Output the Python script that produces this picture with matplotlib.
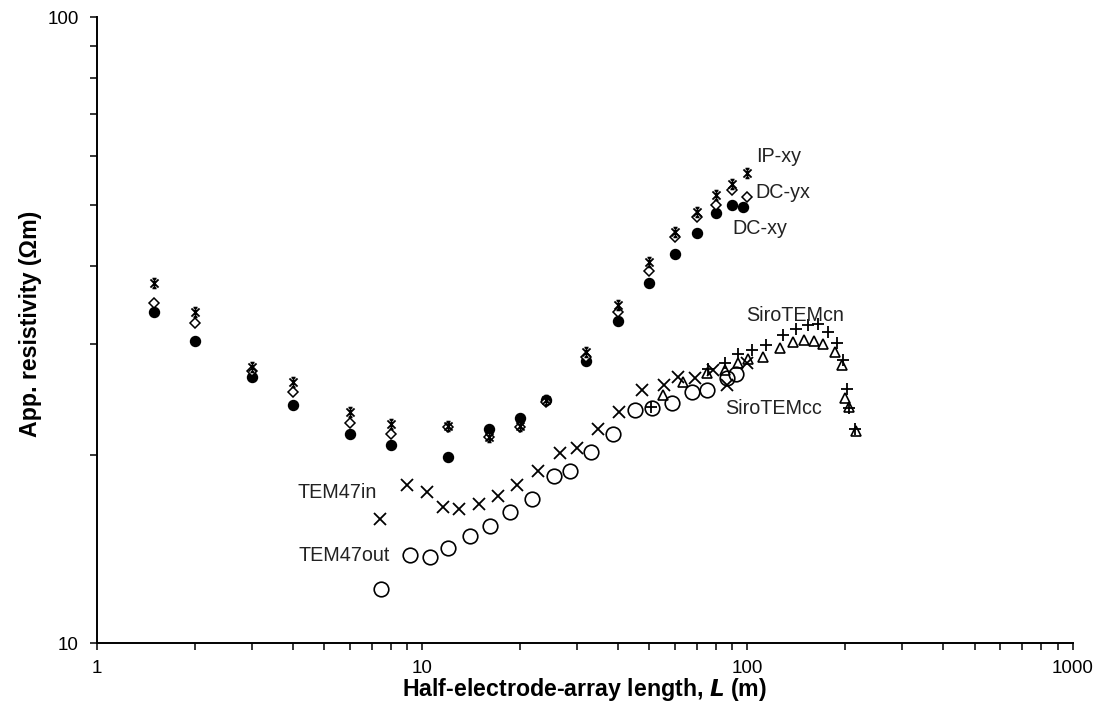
import numpy as np
import matplotlib
matplotlib.use("Agg")
import matplotlib.pyplot as plt
from matplotlib.path import Path
from matplotlib.ticker import LogLocator, FixedLocator, FixedFormatter, NullFormatter

plt.rcParams['font.family'] = ['Liberation Sans', 'DejaVu Sans']

# DC / IP soundings (half-electrode-array length L, apparent resistivity)
dc_L = [1.5, 2, 3, 4, 6, 8, 12, 16, 20, 24, 32, 40, 50, 60, 70, 80, 90]
ip_xy = [37.6, 33.8, 27.6, 26.1, 23.4, 22.4, 22.2, 21.3, 22.2, 24.4, 29.2, 34.7, 40.6, 45.4, 48.8, 52.0, 54.1]
dc_yx = [34.9, 32.4, 27.2, 25.2, 22.5, 21.6, 22.1, 21.3, 22.1, 24.3, 28.6, 33.8, 39.3, 44.5, 47.9, 50.1, 52.9]
dc_xy = [33.8, 30.4, 26.6, 24.0, 21.6, 20.7, 19.8, 22.0, 22.9, 24.4, 28.2, 32.7, 37.6, 41.8, 45.2, 48.6, 50.1]
# last points of each DC/IP curve sit at slightly different L
ip_xy_end_L, ip_xy_end = 100, 56.3
dc_yx_end_L, dc_yx_end = 100, 51.6
dc_xy_end_L, dc_xy_end = 96.7, 49.7

# TEM47 in-loop and out-of-loop
tem_in_L = [7.40, 8.96, 10.32, 11.56, 12.95, 14.92, 17.07, 19.53, 22.65, 26.48,
            29.88, 34.64, 40.21, 47.32, 55.28, 61.07, 68.87, 78.23, 86.36, 99.5]
tem_in = [15.8, 17.9, 17.4, 16.5, 16.4, 16.7, 17.2, 17.9, 18.8, 20.1,
          20.5, 22.0, 23.4, 25.4, 25.8, 26.6, 26.5, 27.3, 25.8, 28.0]
tem_out_L = [7.45, 9.15, 10.54, 11.98, 14.00, 16.13, 18.58, 21.73, 25.38, 28.41,
             32.96, 38.52, 45.02, 50.76, 58.53, 67.42, 74.97, 86.36, 92.05]
tem_out = [12.2, 13.8, 13.7, 14.2, 14.8, 15.4, 16.2, 17.0, 18.5, 18.8,
           20.2, 21.6, 23.6, 23.7, 24.2, 25.2, 25.4, 26.5, 26.9]

# SiroTEM central and coincident loop
siro_cn_L = [50.7, 75.5, 85.2, 93.3, 103.1, 113.8, 128.3, 140.8, 153.2, 164.5,
             176.6, 188.2, 196.4, 202.1, 204.9, 213.8]
siro_cn = [23.8, 27.4, 28.0, 28.9, 29.4, 29.9, 31.0, 31.7, 32.2, 32.3,
           31.4, 30.2, 28.3, 25.5, 23.7, 22.0]
siro_cc_L = [54.9, 63.3, 75.0, 85.2, 93.3, 100.2, 111.4, 125.7, 137.8, 148.9,
             159.8, 170.5, 185.6, 195.0, 199.3, 204.9, 215.3]
siro_cc = [24.9, 26.1, 27.0, 27.3, 28.0, 28.4, 28.6, 29.6, 30.3, 30.5,
           30.4, 30.0, 29.2, 27.8, 24.6, 23.8, 21.8]

x_ticks = [1, 10, 100, 1000]
y_ticks = [10, 100]

# Excel style "star" marker: an X with a vertical bar through it
star = Path([(-1, -1), (1, 1), (-1, 1), (1, -1), (0, -1.2), (0, 1.2), (-0.5, 1.2), (0.5, 1.2), (-0.5, -1.2), (0.5, -1.2)],
            [Path.MOVETO, Path.LINETO, Path.MOVETO, Path.LINETO, Path.MOVETO, Path.LINETO,
             Path.MOVETO, Path.LINETO, Path.MOVETO, Path.LINETO])

fig = plt.figure(figsize=(10.98, 7.11), dpi=100)
ax = fig.add_axes([97 / 1098, 1 - 643 / 711, 975.5 / 1098, 626 / 711])

ax.plot(dc_L + [dc_xy_end_L], dc_xy + [dc_xy_end], ls='none', marker='o', ms=7.2,
        mfc='black', mec='black', zorder=2)
ax.plot(dc_L + [dc_yx_end_L], dc_yx + [dc_yx_end], ls='none', marker='D', ms=5.5,
        mfc='white', mec='black', mew=1.1, zorder=3)
ax.plot(dc_L + [ip_xy_end_L], ip_xy + [ip_xy_end], ls='none', marker=star, ms=7,
        mfc='none', mec='black', mew=1.3, zorder=4)

ax.plot(tem_out_L, tem_out, ls='none', marker='o', ms=10.5, mfc='none', mec='black', mew=1.2, zorder=2)
ax.plot(tem_in_L, tem_in, ls='none', marker='x', ms=9, mec='black', mew=1.3, zorder=3)
ax.plot(siro_cc_L, siro_cc, ls='none', marker='^', ms=6.5, mfc='none', mec='black', mew=1.2, zorder=3)
ax.plot(siro_cn_L, siro_cn, ls='none', marker='+', ms=9, mec='black', mew=1.3, zorder=3)

# series names written next to the points
label_font = dict(fontsize=14.2, ha='left', va='center', color='#222222')
ax.text(106.8, 59.8, 'IP-xy', **label_font)
ax.text(106.0, 52.4, 'DC-yx', **label_font)
ax.text(90.1, 46.0, 'DC-xy', **label_font)
ax.text(99.5, 33.4, 'SiroTEMcn', **label_font)
ax.text(85.2, 23.7, 'SiroTEMcc', **label_font)
ax.text(4.14, 17.4, 'TEM47in', **label_font)
ax.text(4.17, 13.8, 'TEM47out', **label_font)

ax.set_xscale('log')
ax.set_yscale('log')
ax.set_xlim(1, 1000)
ax.set_ylim(10, 100)

ax.xaxis.set_major_locator(FixedLocator(x_ticks))
ax.xaxis.set_major_formatter(FixedFormatter([str(t) for t in x_ticks]))
ax.xaxis.set_minor_locator(LogLocator(base=10, subs=np.arange(2, 10)))
ax.xaxis.set_minor_formatter(NullFormatter())
ax.yaxis.set_major_locator(FixedLocator(y_ticks))
ax.yaxis.set_major_formatter(FixedFormatter([str(t) for t in y_ticks]))
ax.yaxis.set_minor_locator(LogLocator(base=10, subs=np.arange(2, 10)))
ax.yaxis.set_minor_formatter(NullFormatter())

ax.tick_params(which='both', direction='out', length=5, width=1.1, colors='black', labelsize=13.5)
ax.tick_params(axis='y', which='both', pad=8)
ax.tick_params(axis='x', which='both', pad=7)

for side in ['top', 'right']:
    ax.spines[side].set_visible(False)
for side in ['left', 'bottom']:
    ax.spines[side].set_linewidth(1.4)

ax.set_xlabel(r'Half-electrode-array length, $\boldsymbol{L}$ (m)', fontsize=16.7, fontweight='bold')
ax.set_ylabel('App. resistivity (\u03a9m)', fontsize=16.7, fontweight='bold')
ax.xaxis.set_label_coords(0.5, -0.075)
ax.yaxis.set_label_coords(-0.068, 0.51)
ax.xaxis.label.set_va('center')
ax.yaxis.label.set_va('center')

fig.savefig('out.png', dpi=100)
